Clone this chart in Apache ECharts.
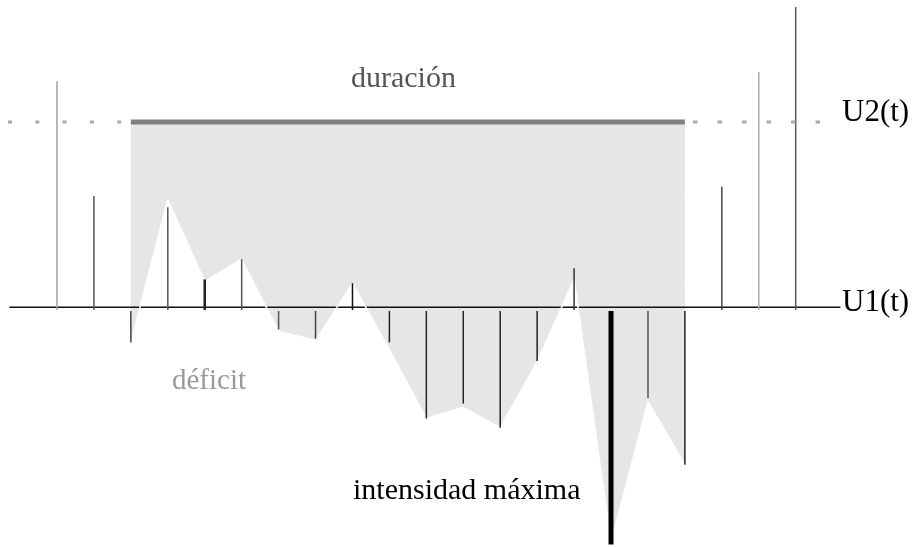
<!DOCTYPE html>
<html lang="es" style="height: 100%">
<head>
  <meta charset="utf-8" />
  <title>Déficit - duración - intensidad</title>
</head>
<body style="height: 100%; margin: 0">
  <div id="container" style="width: 914px; height: 547px"></div>

  <script type="text/javascript" src="https://fastly.jsdelivr.net/npm/echarts@6.0.0/dist/echarts.min.js"></script>
  <script type="text/javascript">
    // pulse heights (U1 = 0, U2 = 100), one per time step
    var steps = [0, 1, 2, 3, 4, 5, 6, 7, 8, 9, 10, 11, 12, 13, 14, 15, 16, 17, 18, 19, 20];
    var pulses = [122, 60, -19, 54, 15, 26, -12, -17, 13, -19, -60, -52, -65, -29, 21, -128, -49, -85, 65, 127, 162];
    // lower edge of the deficit area, steps 2..17
    var edgeSteps = [2, 3, 4, 5, 6, 7, 8, 9, 10, 11, 12, 13, 14, 15, 16, 17];
    var edgeValues = [-19, 58, 14, 26, -13, -18, 13, -23, -60, -54, -65, -29.5, 15, -127, -51, -85];
    var U1 = 0;
    var U2 = 100;

    var pulseColors = ['#a0a0a0', '#555', '#444', '#555', '#222', '#555', '#555', '#444', '#111', '#222', '#222',
      '#222', '#222', '#222', '#333', '#000', '#777', '#222', '#444', '#aaa', '#555'];
    var pulseWidths = [1.5, 1.5, 1.5, 1.5, 2.5, 1.5, 1.5, 1.5, 1.5, 1.5, 1.5,
      1.5, 1.5, 1.5, 1.5, 5, 2, 1.5, 1.5, 1.5, 1.5];

    var dom = document.getElementById('container');
    var myChart = echarts.init(dom, null, { renderer: 'canvas' });

    var first = edgeSteps[0];
    var last = edgeSteps[edgeSteps.length - 1];
    var edgeData = edgeSteps.map(function (s, i) { return [s, edgeValues[i]]; });

    var serif = '"Liberation Serif", "DejaVu Serif", serif';

    var option = {
      animation: false,
      grid: { left: 0, right: 0, top: 0, bottom: 0 },
      xAxis: { type: 'value', min: -1.543, max: 23.203, show: false },
      yAxis: { type: 'value', min: -129.4, max: 165.8, show: false },
      series: [
        {
          // grey deficit area: from U2 down to the edge line
          type: 'custom',
          z: 1,
          silent: true,
          data: [0],
          renderItem: function (params, api) {
            var pts = [api.coord([first, U2])];
            edgeData.forEach(function (d) { pts.push(api.coord(d)); });
            pts.push(api.coord([last, U2]));
            return {
              type: 'polygon',
              shape: { points: pts },
              style: { fill: '#e6e6e6', stroke: null }
            };
          }
        },
        {
          // U1 threshold
          type: 'line',
          z: 2,
          symbol: 'none',
          silent: true,
          data: [[-1.29, U1], [21.21, U1]],
          lineStyle: { color: '#111', width: 1.5 }
        },
        {
          // white edge of the area
          type: 'line',
          z: 3,
          symbol: 'none',
          silent: true,
          data: edgeData,
          lineStyle: { color: '#fff', width: 1.5 }
        },
        {
          // pulses
          type: 'custom',
          z: 4,
          silent: true,
          data: steps.map(function (s, i) { return [s, pulses[i] > 0 ? -1.5 : -2, pulses[i]]; }),
          renderItem: function (params, api) {
            var i = params.dataIndex;
            var a = api.coord([api.value(0), api.value(1)]);
            var b = api.coord([api.value(0), api.value(2)]);
            return {
              type: 'line',
              shape: { x1: a[0], y1: a[1], x2: b[0], y2: b[1] },
              style: { stroke: pulseColors[i], lineWidth: pulseWidths[i] }
            };
          }
        },
        {
          // U2 threshold during the event
          type: 'line',
          z: 5,
          symbol: 'none',
          silent: true,
          data: [[first, U2], [last, U2]],
          lineStyle: { color: '#808080', width: 5, cap: 'butt' }
        },
        {
          type: 'line',
          z: 5,
          symbol: 'none',
          silent: true,
          data: [[-1.327, U2], [1.76, U2]],
          lineStyle: { color: '#aaa', width: 3, type: [4, 23.3] }
        },
        {
          type: 'line',
          z: 5,
          symbol: 'none',
          silent: true,
          data: [[17.22, U2], [20.66, U2]],
          lineStyle: { color: '#aaa', width: 3, type: [4.5, 20] }
        }
      ],
      graphic: [
        { type: 'text', left: 351, top: 64, z: 10, style: { text: 'duración', font: '30px ' + serif, fill: '#555' } },
        { type: 'text', left: 842, top: 97, z: 10, style: { text: 'U2(t)', font: '31px ' + serif, fill: '#000' } },
        { type: 'text', left: 842, top: 287, z: 10, style: { text: 'U1(t)', font: '31px ' + serif, fill: '#000' } },
        { type: 'text', left: 172, top: 367, z: 10, style: { text: 'déficit', font: '29px ' + serif, fill: '#999' } },
        { type: 'text', left: 353, top: 476, z: 10, style: { text: 'intensidad máxima', font: '30px ' + serif, fill: '#000' } }
      ]
    };

    myChart.setOption(option);
    window.addEventListener('resize', myChart.resize);
  </script>
</body>
</html>
